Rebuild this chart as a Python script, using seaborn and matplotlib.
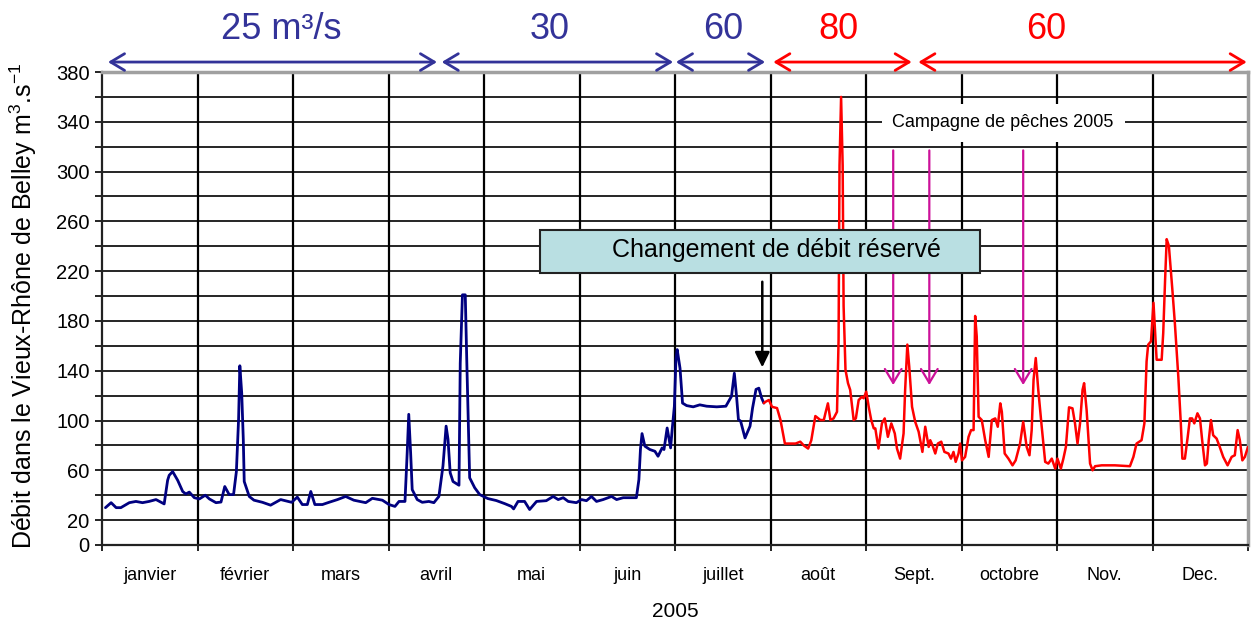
import matplotlib
matplotlib.use("Agg")
import numpy as np
import pandas as pd
import seaborn as sns
import matplotlib.pyplot as plt
from matplotlib.patches import Rectangle

# ---------------- data ----------------
months = ["janvier", "février", "mars", "avril", "mai", "juin", "juillet",
          "août", "Sept.", "octobre", "Nov.", "Dec."]

# blue period (débit réservé before change), day of year -> m3/s
blue_days = [1.1, 2.9, 4.5, 6, 8.7, 10.8, 12.9, 15, 17.2, 19.8, 20.9, 21.4, 22.5, 24.1, 25.7,
             26.7, 27.8, 29.4, 31, 32.9, 34.2, 36.3, 37.9, 39.1, 40.5, 41.9, 42.8, 43.5, 43.9,
             44.5, 45, 45.3, 46.9, 48.4, 51.1, 53.7, 56.9, 60.4, 62.2, 63.8, 65.4, 66.5, 67.8,
             70.2, 72.3, 75, 77.6, 80.2, 84, 86.1, 89.3, 91.4, 93.3, 94.6, 96.5, 97.2, 97.7,
             98.3, 98.8, 100.4, 102, 104.1, 105.7, 107.3, 108.6, 109.6, 110.2, 110.9, 111.8,
             113.7, 114.1, 114.8, 115.7, 116.2, 117.1, 118.7, 120.3, 122.9, 125.6, 128.3,
             130.4, 131.1, 132.5, 134.6, 136.2, 138.4, 141.5, 143.7, 145.3, 146.9, 148.5,
             151.1, 152.7, 154.3, 155.9, 157.5, 159.6, 162.3, 163.9, 166, 170.2, 171, 171.5,
             172, 172.9, 174.5, 176.1, 177.1, 178.4, 179, 180, 181.1, 181.6, 182.3, 182.8,
             183.2, 184.1, 184.9, 186.2, 188.3, 190.4, 192.6, 195.8, 198.7, 200.5, 201.4,
             202.1, 202.7, 203.4, 204.8, 206.4, 207.2, 208.3, 209.2, 210.1, 210.8]
blue_vals = [30, 34, 30, 30, 34, 35, 34, 35, 36.5, 33, 52, 56, 59, 52, 43,
             41, 42.5, 38, 37, 40, 37, 34, 34.5, 47, 40.5, 40.5, 59, 101, 144,
             122, 85, 51, 39, 36, 34.3, 32, 36.5, 34.3, 38.5, 32.5, 32.5, 43, 32.5,
             32.5, 34.3, 36.5, 39, 36, 34, 37.5, 36, 32.5, 31, 35, 35, 74, 105,
             74, 44.5, 36.5, 34.3, 35, 34, 39, 63.5, 95.5, 85, 58, 51,
             48, 146, 201, 201, 146, 54, 46, 40.5, 37.3, 35.7, 33.2,
             31, 29, 35, 35, 28.5, 35, 35.6, 39, 36.5, 38, 35,
             34, 36.5, 35.6, 39, 35, 36.5, 39, 36.5, 38, 38, 52.5, 77,
             89.5, 79.4, 76.7, 75.3, 71.3, 78, 76.7, 94, 78, 92.8, 111.5, 149,
             157, 142, 114, 112, 111, 112.6, 111.5, 111, 111.5, 119.5, 138,
             119.5, 100.8, 99.5, 86, 95.5, 110, 125, 126, 118, 114]

# red period (after change)
red_days = [210.8, 211.3, 212.4, 213.4, 215, 216.1, 217.5, 220.9, 222.4, 223.5, 224.9, 225.9,
            227.2, 228.8, 229.9, 230.4, 231.2, 232, 233, 234.1, 234.6, 234.9, 235.4, 235.9,
            236.2, 236.8, 237.6, 238.3, 239.4, 240.1, 241, 242, 242.6, 243.4, 244.2, 245,
            245.8, 246.3, 247.3, 248.4, 249.3, 250.3, 251.4, 252.5, 253.2, 254.2, 255.3,
            255.8, 256.5, 257.1, 258, 259, 260.1, 261.3, 262.2, 263.3, 263.8, 264.5, 265.4,
            266.2, 267.3, 268.3, 269.6, 270.4, 271.2, 271.9, 272.8, 273.3, 273.9, 274.9, 276,
            276.8, 277.6, 278.1, 278.6, 279.2, 280.2, 281.3, 282.4, 283.4, 284.5, 285.3,
            286.1, 286.6, 287.5, 288.7, 290, 291, 292.4, 293.4, 294.5, 295.4, 296.1, 296.7,
            297.4, 298.2, 299.3, 300.4, 301.4, 302.5, 303.6, 304.3, 305.4, 306.2, 307, 307.6,
            308, 309.1, 309.9, 310.7, 311.5, 312.3, 312.8, 313.6, 314.7, 315.5, 316.3, 318.4,
            322.6, 327.4, 328.5, 329.5, 331.1, 332, 332.7, 333.2, 334.1, 334.9, 335.9, 337.5,
            338, 338.6, 339.1, 339.8, 340.9, 341.7, 342.8, 343.6, 344.1, 344.9, 345.8, 346.5,
            347.2, 347.9, 348.9, 349.7, 350.4, 351.3, 351.9, 352.5, 353.2, 353.9, 355, 356,
            357.1, 358.5, 359.8, 360.8, 361.7, 362.4, 363.2, 364, 365]
red_vals = [114, 115, 116.5, 111, 110, 100.4, 81.5, 81.5, 83, 80, 77.5, 84,
            103.6, 100.4, 100.4, 105.8, 113.8, 100.4, 101.7, 107, 165, 305, 360, 305,
            192, 140.7, 130, 124.6, 100.4, 101.7, 116.5, 119, 117.9, 123.2, 111, 100.4,
            93.7, 93.7, 77.5, 97.7, 101.7, 86.9, 97.7, 89.6, 77.5, 69.4, 89.6,
            124.6, 161, 143.4, 111, 99, 91, 74.8, 95, 78.8, 84.2, 80.2, 73.5,
            81.5, 83, 74.8, 73.5, 69.4, 74.8, 66.8, 73.5, 81.5, 68, 70.8, 86.9,
            92.3, 92.3, 184, 167.6, 103, 100.4, 84.2, 70.8, 100.4, 101.7, 95,
            113.8, 107, 73.5, 69.4, 64, 68, 81.5, 99, 78.8, 72.1, 92.3, 132.7,
            150.2, 124.6, 95, 66.8, 65.4, 69.4, 61.4, 69.4, 61.4, 69.4, 78.8, 97.7,
            110.6, 109.8, 97.7, 81.5, 97.7, 124.6, 130, 108.4, 65.4, 60, 63.3, 64,
            64, 63.3, 70.8, 81.5, 84.2, 97.7, 147.5, 160.9, 163.6, 194.6, 148.8, 148.8,
            170.3, 213.4, 245.7, 240.3, 205.4, 178.4, 135.4, 97.7, 69.4, 69.4, 86.9, 101.7,
            101.7, 97.7, 105.8, 101.7, 84.2, 64, 65.4, 84.2, 100.4, 88.2, 85.5, 78.8,
            70.8, 64, 70.8, 72.1, 92.3, 84.2, 68, 70.8, 78.8]

ytick_labels_shown = [0, 20, 60, 100, 140, 180, 220, 260, 300, 340, 380]

BLUE_TXT = "#333399"
RED = "#FF0000"
NAVY = "#000080"
PINK = "#CC1199"

# ---------------- figure ----------------
sns.set_style("white")
plt.rcParams["font.family"] = ["Liberation Sans", "DejaVu Sans"]
plt.rcParams["mathtext.fontset"] = "custom"
plt.rcParams["mathtext.rm"] = "Liberation Sans"
plt.rcParams["mathtext.it"] = "Liberation Sans:italic"
plt.rcParams["mathtext.bf"] = "Liberation Sans:bold"
for k in ["text.color", "axes.labelcolor", "xtick.color", "ytick.color"]:
    plt.rcParams[k] = "black"

W, H = 1252, 623
fig = plt.figure(figsize=(W / 100, H / 100), dpi=100)
ax = fig.add_axes([102 / W, 1 - 545 / H, 1146 / W, 473 / H])

df_blue = pd.DataFrame({"day": blue_days, "debit": blue_vals})
df_red = pd.DataFrame({"day": red_days, "debit": red_vals})
sns.lineplot(data=df_blue, x="day", y="debit", ax=ax, color=NAVY, lw=2.0,
             estimator=None, sort=False, zorder=3)
sns.lineplot(data=df_red, x="day", y="debit", ax=ax, color=RED, lw=1.8,
             estimator=None, sort=False, zorder=3)

month_len = 365 / 12
bounds = [i * month_len for i in range(13)]
mids = [(i + 0.5) * month_len for i in range(12)]

ax.set_xlim(0, 365)
ax.set_ylim(0, 380)

# grid
for y in range(20, 380, 20):
    ax.axhline(y, color="black", lw=1.2, zorder=1)
for b in bounds[1:-1]:
    ax.axvline(b, color="black", lw=1.6, zorder=1)

ax.set_yticks(list(range(0, 381, 20)))
ax.set_yticklabels([str(v) if v in ytick_labels_shown else "" for v in range(0, 381, 20)],
                   fontsize=14.5, color="black")
ax.tick_params(axis="y", direction="out", length=5, width=1.2, color="black", pad=4,
               left=True, labelcolor="black")
ax.set_xticks(bounds)
ax.set_xticklabels([])
ax.tick_params(axis="x", direction="out", length=4.5, width=1.2, color="black",
               bottom=True)
for m, x in zip(months, mids):
    ax.text(x, -(579.5 - 545) / 473, m, transform=ax.get_xaxis_transform(),
            ha="center", va="baseline", fontsize=13, color="black")

ax.set_xlabel("")
ax.set_ylabel("")
for s in ["top", "right"]:
    ax.spines[s].set_color("#A0A0A0")
    ax.spines[s].set_linewidth(2.5)
for s in ["left", "bottom"]:
    ax.spines[s].set_color("#222222")
    ax.spines[s].set_linewidth(1.6)

fig.text(23 / W, 1 - 306 / H, "Débit dans le Vieux-Rhône de Belley m$^{3}$.s$^{-1}$",
         rotation=90, ha="center", va="center", fontsize=18, color="black")
fig.text(675 / W, 1 - 617 / H, "2005", ha="center", va="baseline", fontsize=15,
         color="black")

# regime arrows above the plot
regimes = [("25 m³/s", 1.9, 106.7, 57, BLUE_TXT),
           ("30", 108.2, 181.9, 142.7, BLUE_TXT),
           ("60", 182.8, 211.2, 197.8, BLUE_TXT),
           ("80", 213.8, 257.9, 234.7, RED),
           ("60", 260.0, 364.6, 300.7, RED)]
for lab, x0, x1, xt, c in regimes:
    ax.annotate("", xy=(x1, 388), xytext=(x0, 388), annotation_clip=False,
                arrowprops=dict(arrowstyle="<->,head_length=0.5,head_width=0.3",
                                color=c, lw=2, shrinkA=0, shrinkB=0, mutation_scale=20))
    ax.text(xt, 406.5, lab, color=c, fontsize=26, ha="center", va="baseline",
            clip_on=False)

# campagne de pêches
ax.text(287, 335.5, "Campagne de pêches 2005", fontsize=13, ha="center", va="baseline",
        zorder=4, color="black",
        bbox=dict(boxstyle="square,pad=0.6", fc="white", ec="none"))
for d in [252.0, 263.5, 293.4]:
    ax.annotate("", xy=(d, 128.5), xytext=(d, 317),
                arrowprops=dict(arrowstyle="->,head_length=0.5,head_width=0.3",
                                color=PINK, lw=1.6, shrinkA=0, shrinkB=0,
                                mutation_scale=20), zorder=4)

# changement de débit réservé
ax.add_patch(Rectangle((139.5, 218.5), 140.1, 34.5, fc="#B9DFE2", ec="#222222", lw=1.5,
                       zorder=6))
ax.text(214.7, 231.1, "Changement de débit réservé", fontsize=18, ha="center",
        va="baseline", zorder=7, color="black")
ax.annotate("", xy=(210.3, 142.7), xytext=(210.3, 211.5),
            arrowprops=dict(arrowstyle="-|>,head_length=0.45,head_width=0.22",
                            color="black", lw=1.8, shrinkA=0, shrinkB=0,
                            mutation_scale=20), zorder=5)

fig.savefig("out.png", dpi=100)
